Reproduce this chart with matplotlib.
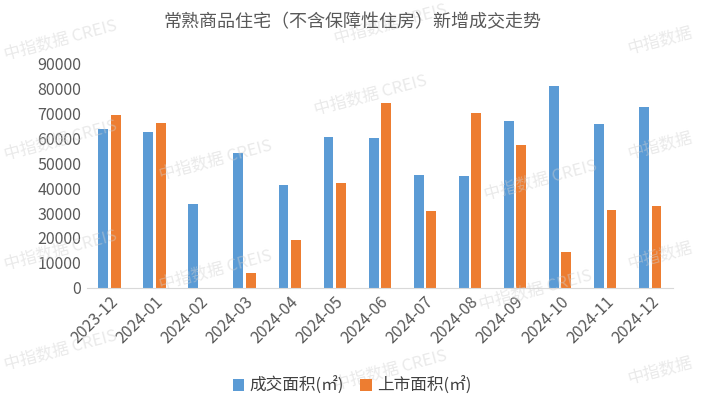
import numpy as np
import matplotlib
matplotlib.use('Agg')
import matplotlib.pyplot as plt

plt.rcParams['font.family'] = ['Noto Sans CJK SC', 'DejaVu Sans']

months = ['2023-12', '2024-01', '2024-02', '2024-03', '2024-04', '2024-05', '2024-06',
          '2024-07', '2024-08', '2024-09', '2024-10', '2024-11', '2024-12']
deal_area = [63600, 62400, 33600, 54000, 41200, 60400, 60000,
             45200, 44800, 66800, 80800, 65600, 72400]
supply_area = [69200, 66000, 0, 6100, 19200, 42000, 74000,
               30800, 70000, 57200, 14400, 31200, 32900]
yticks = list(range(0, 90001, 10000))

fig = plt.figure(figsize=(7.04, 4.12), dpi=100)
ax = fig.add_axes([0.1236, 0.301, 0.832, 0.546])

x = np.arange(len(months))
w = 0.22
ax.bar(x - 0.14, deal_area, w, color='#5B9BD5', label='成交面积(㎡)', zorder=2)
ax.bar(x + 0.14, supply_area, w, color='#ED7D31', label='上市面积(㎡)', zorder=2)

ax.set_xlim(-0.5, len(months) - 0.5)
ax.set_ylim(0, 90000)
ax.set_yticks(yticks)
ax.set_yticklabels([str(v) for v in yticks], fontsize=11.5, color='#595959')
ax.set_xticks(x)
ax.set_xticklabels(months, rotation=45, ha='right', rotation_mode='anchor',
                   fontsize=11.5, color='#595959')
ax.tick_params(length=0, pad=4)
for s in ['top', 'right', 'left']:
    ax.spines[s].set_visible(False)
ax.spines['bottom'].set_color('#D9D9D9')

fig.text(0.5, 0.945, '常熟商品住宅（不含保障性住房）新增成交走势', ha='center', va='center',
         fontsize=13, color='#595959')

fig.legend(loc='center', bbox_to_anchor=(0.5, 0.063), ncol=2, frameon=False,
           fontsize=12, handlelength=0.7, handleheight=0.7, handletextpad=0.3,
           columnspacing=1.0, labelcolor='#404040')

# faint watermarks
marks = [(60, 40, '中指数据 CREIS'), (390, 24, '中指数据 CREIS'), (660, 40, '中指数据'),
         (370, 95, '中指数据 CREIS'), (60, 140, '中指数据 CREIS'), (215, 160, '中指数据 CREIS'),
         (660, 145, '中指数据'), (540, 180, '中指数据 CREIS'), (60, 250, '中指数据 CREIS'),
         (215, 270, '中指数据 CREIS'), (535, 290, '中指数据 CREIS'), (660, 255, '中指数据'),
         (60, 350, '中指数据 CREIS'), (390, 370, '中指数据 CREIS'), (660, 370, '中指数据')]
for px, py, t in marks:
    fig.text(px / 704, 1 - py / 412, t, ha='center', va='center', fontsize=12,
             color='#D0D0D0', alpha=0.45, rotation=15, zorder=0)

fig.savefig('out.png', dpi=100)
